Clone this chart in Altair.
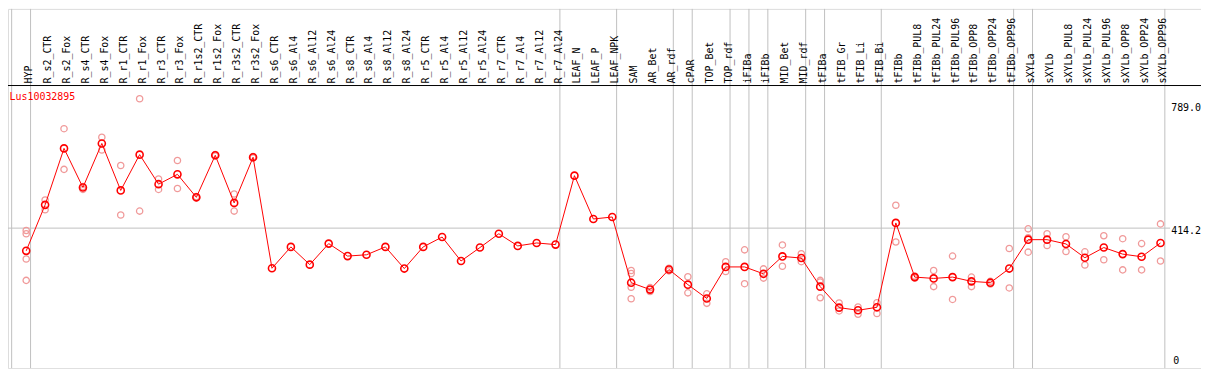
import altair as alt
import pandas as pd

categories = [
    "HYP", "R_s2_CTR", "R_s2_Fox", "R_s4_CTR", "R_s4_Fox", "R_r1_CTR", "R_r1_Fox",
    "R_r3_CTR", "R_r3_Fox", "R_r1s2_CTR", "R_r1s2_Fox", "R_r3s2_CTR", "R_r3s2_Fox",
    "R_s6_CTR", "R_s6_Al4", "R_s6_Al12", "R_s6_Al24", "R_s8_CTR", "R_s8_Al4",
    "R_s8_Al12", "R_s8_Al24", "R_r5_CTR", "R_r5_Al4", "R_r5_Al12", "R_r5_Al24",
    "R_r7_CTR", "R_r7_Al4", "R_r7_Al12", "R_r7_Al24", "LEAF_N", "LEAF_P", "LEAF_NPK",
    "SAM", "AR_Bet", "AR_rdf", "cPAR", "TOP_Bet", "TOP_rdf", "iFIBa", "iFIBb",
    "MID_Bet", "MID_rdf", "tFIBa", "tFIB_Gr", "tFIB_Li", "tFIB_Bi", "tFIBb",
    "tFIBb_PUL8", "tFIBb_PUL24", "tFIBb_PUL96", "tFIBb_OPP8", "tFIBb_OPP24",
    "tFIBb_OPP96", "sXYLa", "sXYLb", "sXYLb_PUL8", "sXYLb_PUL24", "sXYLb_PUL96",
    "sXYLb_OPP8", "sXYLb_OPP24", "sXYLb_OPP96",
]

mean_values = [
    345, 485, 657, 538, 672, 529, 638, 548, 578, 508, 636, 491, 630,
    292, 357, 303, 367, 329, 333, 357, 291, 357, 387, 314, 355,
    397, 360, 369, 364, 574, 442, 448,
    248, 227, 288, 242, 200, 296, 296, 275, 328, 323, 236, 172, 164, 173, 430,
    265, 261, 265, 252, 248, 291, 379, 379, 366, 324, 355, 335, 327, 369,
]

rep_categories = (
    ["HYP"] * 4 + ["R_s2_CTR"] * 2 + ["R_s2_Fox"] * 2 + ["R_s4_CTR"] * 2
    + ["R_s4_Fox"] * 2 + ["R_r1_CTR"] * 2 + ["R_r1_Fox"] * 2 + ["R_r3_CTR"] * 2
    + ["R_r3_Fox"] * 2 + ["R_r1s2_CTR"] * 2 + ["R_r1s2_Fox"] * 2
    + ["R_r3s2_CTR"] * 2 + ["R_r3s2_Fox"] * 2
    + ["SAM"] * 4 + ["AR_Bet"] * 2 + ["AR_rdf"] * 2 + ["cPAR"] * 2
    + ["TOP_Bet"] * 2 + ["TOP_rdf"] * 2 + ["iFIBa"] * 2 + ["iFIBb"] * 2
    + ["MID_Bet"] * 2 + ["MID_rdf"] * 2 + ["tFIBa"] * 3 + ["tFIB_Gr"] * 2
    + ["tFIB_Li"] * 2 + ["tFIB_Bi"] * 2 + ["tFIBb"] * 2 + ["tFIBb_PUL8"] * 2
    + ["tFIBb_PUL24"] * 2 + ["tFIBb_PUL96"] * 2 + ["tFIBb_OPP8"] * 2
    + ["tFIBb_OPP24"] * 2 + ["tFIBb_OPP96"] * 2 + ["sXYLa"] * 3 + ["sXYLb"] * 2
    + ["sXYLb_PUL8"] * 2 + ["sXYLb_PUL24"] * 2 + ["sXYLb_PUL96"] * 2
    + ["sXYLb_OPP8"] * 2 + ["sXYLb_OPP24"] * 2 + ["sXYLb_OPP96"] * 2
)
rep_values = [
    407, 397, 320, 255, 500, 470, 717, 593, 541, 532, 691, 652, 605, 454,
    808, 466, 564, 532, 620, 535, 510, 506, 638, 634, 518, 466, 632, 628,
    285, 276, 234, 199, 233, 221, 292, 284, 266, 217, 214, 185, 312, 282,
    348, 245, 290, 262, 363, 298, 336, 312, 255, 250, 202, 186, 162,
    174, 152, 187, 154, 484, 372, 268, 262, 285, 236, 329, 197,
    265, 236, 252, 244, 352, 232, 412, 385, 341, 397, 361,
    388, 343, 342, 302, 391, 318, 382, 287, 367, 287, 427, 314,
]

# group separators: drawn just after these category indices
separator_after = [-1, 0, 28, 31, 34, 35, 37, 38, 39, 41, 42, 45, 52, 53, 60]

axis_values = [789.0, 414.2]
axis_texts = ["789.0", "414.2"]
gene_name = "Lus10032895"

W, H = 1199, 361
X_DOMAIN = [-0.9632, -0.9632 + W / 19.0]
Y_DOMAIN = [-12.12, 1081.8]
FONT = "DejaVu Sans Mono"

idx_of = {c: i for i, c in enumerate(categories)}
means_df = pd.DataFrame({"cat": categories, "idx": range(len(categories)), "value": mean_values})
reps_df = pd.DataFrame({"cat": rep_categories, "value": rep_values})
reps_df["idx"] = reps_df["cat"].map(idx_of)
sep_df = pd.DataFrame({"pos": [k + 0.23 for k in separator_after]})
axis_df = pd.DataFrame({"v": axis_values, "t": axis_texts})
zero_df = pd.DataFrame({"v": [0.0], "t": ["0"]})
grid_df = pd.DataFrame({"v": [414.2]})

xs = alt.Scale(domain=X_DOMAIN, nice=False, zero=False)
ys = alt.Scale(domain=Y_DOMAIN, nice=False, zero=False)

seps = alt.Chart(sep_df).mark_rule(color="#c0c0c0", strokeWidth=1).encode(
    x=alt.X("pos:Q", scale=xs, axis=None),
    y=alt.value(0), y2=alt.value(H),
)
grid = alt.Chart(grid_df).mark_rule(color="#c0c0c0", strokeWidth=1).encode(
    y=alt.Y("v:Q", scale=ys, axis=None),
    x=alt.value(0), x2=alt.value(1168),
)
header_line = alt.Chart(grid_df).mark_rule(color="black", strokeWidth=1).encode(
    x=alt.value(0), x2=alt.value(W), y=alt.value(77),
)
reps = alt.Chart(reps_df).mark_point(
    shape="circle", filled=False, size=40, strokeWidth=1.3, color="#f09a9a", opacity=1
).encode(
    x=alt.X("idx:Q", scale=xs, axis=None),
    y=alt.Y("value:Q", scale=ys, axis=None),
)
line = alt.Chart(means_df).mark_line(color="red", strokeWidth=1).encode(
    x=alt.X("idx:Q", scale=xs, axis=None),
    y=alt.Y("value:Q", scale=ys, axis=None),
)
pts = alt.Chart(means_df).mark_point(
    shape="circle", filled=False, size=50, strokeWidth=1.6, color="red", opacity=1
).encode(
    x=alt.X("idx:Q", scale=xs, axis=None),
    y=alt.Y("value:Q", scale=ys, axis=None),
)
labels = alt.Chart(means_df).mark_text(
    angle=270, align="left", baseline="middle", font=FONT, fontSize=10, color="black", dy=3
).encode(
    x=alt.X("idx:Q", scale=xs, axis=None),
    y=alt.value(75),
    text="cat:N",
)
ax_text = alt.Chart(axis_df).mark_text(
    align="left", baseline="middle", font=FONT, fontSize=10, color="black", dy=3
).encode(
    x=alt.value(1169),
    y=alt.Y("v:Q", scale=ys, axis=None),
    text="t:N",
)
zero_text = alt.Chart(zero_df).mark_text(
    align="left", baseline="middle", font=FONT, fontSize=10, color="black", dy=-3
).encode(
    x=alt.value(1171),
    y=alt.Y("v:Q", scale=ys, axis=None),
    text="t:N",
)
title_text = alt.Chart(pd.DataFrame({"t": [gene_name]})).mark_text(
    align="left", baseline="middle", font=FONT, fontSize=10, color="red"
).encode(
    x=alt.value(1.5), y=alt.value(89), text="t:N",
)

chart = alt.layer(
    seps, grid, header_line, reps, line, pts, labels, ax_text, zero_text, title_text
).properties(
    width=W, height=H,
    autosize=alt.AutoSizeParams(type="none"),
    padding=0,
).configure_view(
    stroke="black", strokeWidth=1
).configure(background="white")

chart.save("out.html", embed_options={"renderer": "svg", "actions": False})
